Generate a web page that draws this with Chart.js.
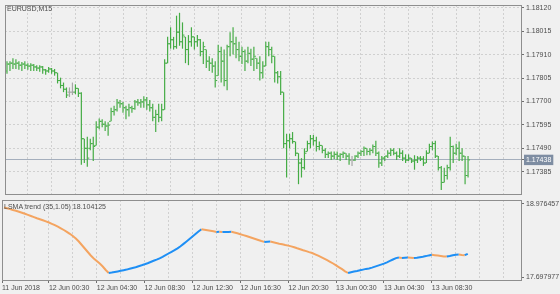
<!DOCTYPE html>
<html lang="en">
<head>
<meta charset="UTF-8">
<script src="https://cdn.jsdelivr.net/npm/chart.js@4.4.0/dist/chart.umd.min.js"></script>
<title>EURUSD,M15 - LSMA trend</title>
<style>
  html, body { margin: 0; padding: 0; background: #f0f0f0; }
  body { width: 560px; height: 294px; position: relative; overflow: hidden; }
  #price { position: absolute; left: 0; top: 0; }
  #lsma { position: absolute; left: 0; top: 199px; }
</style>
</head>
<body>
<canvas id="price" width="560" height="199"></canvas>
<canvas id="lsma" width="560" height="95"></canvas>
<script>
// EURUSD M15 bars, 11 Jun 20:45 -> 13 Jun 11:30
const opens = [
  1.17837, 1.17868, 1.17872, 1.17868, 1.17872, 1.17863, 1.17868, 1.17863, 1.17859, 1.17863,
  1.17855, 1.17850, 1.17855, 1.17842, 1.17837, 1.17846, 1.17837, 1.17829, 1.17794, 1.17772,
  1.17755, 1.17742, 1.17742, 1.17742, 1.17759, 1.17737, 1.17533, 1.17490, 1.17490, 1.17511,
  1.17503, 1.17585, 1.17611, 1.17598, 1.17590, 1.17611, 1.17655, 1.17663, 1.17694, 1.17690,
  1.17672, 1.17663, 1.17672, 1.17668, 1.17698, 1.17694, 1.17698, 1.17707, 1.17685, 1.17672,
  1.17629, 1.17642, 1.17629, 1.17663, 1.17872, 1.17959, 1.17977, 1.17946, 1.18011, 1.17968,
  1.17990, 1.17933, 1.17968, 1.17990, 1.17968, 1.17977, 1.17924, 1.17933, 1.17881, 1.17872,
  1.17859, 1.17816, 1.17924, 1.17881, 1.17794, 1.17946, 1.17968, 1.17959, 1.17933, 1.17903,
  1.17924, 1.17881, 1.17916, 1.17890, 1.17894, 1.17872, 1.17829, 1.17859, 1.17946, 1.17933,
  1.17903, 1.17829, 1.17811, 1.17742, 1.17511, 1.17524, 1.17533, 1.17520, 1.17468, 1.17424,
  1.17403, 1.17476, 1.17511, 1.17533, 1.17524, 1.17498, 1.17503, 1.17481, 1.17463, 1.17468,
  1.17455, 1.17463, 1.17455, 1.17463, 1.17468, 1.17455, 1.17437, 1.17437, 1.17455, 1.17468,
  1.17476, 1.17490, 1.17476, 1.17481, 1.17498, 1.17468, 1.17424, 1.17446, 1.17455, 1.17468,
  1.17481, 1.17468, 1.17455, 1.17468, 1.17446, 1.17437, 1.17446, 1.17433, 1.17437, 1.17446,
  1.17442, 1.17424, 1.17468, 1.17498, 1.17511, 1.17455, 1.17403, 1.17337, 1.17368, 1.17403,
  1.17498, 1.17468, 1.17490, 1.17468, 1.17455, 1.17368
];
const highs = [
  1.17881, 1.17881, 1.17894, 1.17890, 1.17881, 1.17877, 1.17881, 1.17872, 1.17872, 1.17868,
  1.17863, 1.17863, 1.17859, 1.17846, 1.17855, 1.17850, 1.17846, 1.17829, 1.17807, 1.17785,
  1.17763, 1.17763, 1.17785, 1.17777, 1.17759, 1.17742, 1.17533, 1.17542, 1.17533, 1.17542,
  1.17611, 1.17624, 1.17620, 1.17611, 1.17607, 1.17672, 1.17681, 1.17711, 1.17707, 1.17698,
  1.17681, 1.17690, 1.17681, 1.17707, 1.17711, 1.17711, 1.17724, 1.17720, 1.17707, 1.17690,
  1.17663, 1.17690, 1.17690, 1.17890, 1.17990, 1.18033, 1.17990, 1.18085, 1.18098, 1.18055,
  1.17990, 1.17998, 1.18033, 1.17990, 1.17998, 1.17981, 1.17968, 1.17933, 1.17903, 1.17894,
  1.17881, 1.17955, 1.17946, 1.17933, 1.17955, 1.18011, 1.18033, 1.17990, 1.17968, 1.17946,
  1.17933, 1.17946, 1.17937, 1.17946, 1.17894, 1.17903, 1.17881, 1.17968, 1.17968, 1.17946,
  1.17903, 1.17837, 1.17837, 1.17742, 1.17555, 1.17555, 1.17563, 1.17520, 1.17468, 1.17446,
  1.17490, 1.17524, 1.17550, 1.17550, 1.17542, 1.17520, 1.17503, 1.17490, 1.17476, 1.17476,
  1.17476, 1.17476, 1.17468, 1.17476, 1.17468, 1.17468, 1.17455, 1.17459, 1.17476, 1.17481,
  1.17498, 1.17490, 1.17490, 1.17507, 1.17524, 1.17476, 1.17455, 1.17455, 1.17481, 1.17490,
  1.17490, 1.17476, 1.17490, 1.17481, 1.17463, 1.17463, 1.17446, 1.17459, 1.17455, 1.17455,
  1.17455, 1.17481, 1.17511, 1.17520, 1.17524, 1.17455, 1.17411, 1.17403, 1.17416, 1.17542,
  1.17503, 1.17511, 1.17520, 1.17490, 1.17455, 1.17455
];
const lows = [
  1.17824, 1.17837, 1.17846, 1.17846, 1.17842, 1.17837, 1.17846, 1.17842, 1.17837, 1.17837,
  1.17837, 1.17833, 1.17824, 1.17820, 1.17829, 1.17824, 1.17816, 1.17781, 1.17759, 1.17742,
  1.17716, 1.17720, 1.17729, 1.17733, 1.17720, 1.17416, 1.17424, 1.17407, 1.17481, 1.17433,
  1.17503, 1.17576, 1.17585, 1.17568, 1.17546, 1.17611, 1.17637, 1.17655, 1.17672, 1.17650,
  1.17620, 1.17633, 1.17650, 1.17663, 1.17681, 1.17672, 1.17672, 1.17663, 1.17655, 1.17611,
  1.17563, 1.17607, 1.17611, 1.17663, 1.17872, 1.17937, 1.17933, 1.17937, 1.17950, 1.17937,
  1.17872, 1.17863, 1.17946, 1.17933, 1.17946, 1.17903, 1.17868, 1.17850, 1.17837, 1.17829,
  1.17763, 1.17816, 1.17785, 1.17768, 1.17750, 1.17903, 1.17911, 1.17894, 1.17881, 1.17868,
  1.17837, 1.17872, 1.17859, 1.17837, 1.17846, 1.17794, 1.17803, 1.17859, 1.17903, 1.17872,
  1.17785, 1.17781, 1.17729, 1.17490, 1.17359, 1.17490, 1.17511, 1.17455, 1.17329, 1.17359,
  1.17394, 1.17476, 1.17490, 1.17503, 1.17476, 1.17481, 1.17468, 1.17446, 1.17446, 1.17437,
  1.17442, 1.17437, 1.17433, 1.17446, 1.17437, 1.17416, 1.17411, 1.17433, 1.17446, 1.17455,
  1.17455, 1.17459, 1.17459, 1.17468, 1.17455, 1.17403, 1.17411, 1.17433, 1.17446, 1.17455,
  1.17459, 1.17437, 1.17446, 1.17433, 1.17424, 1.17433, 1.17424, 1.17394, 1.17424, 1.17433,
  1.17411, 1.17424, 1.17468, 1.17481, 1.17446, 1.17390, 1.17303, 1.17337, 1.17350, 1.17390,
  1.17424, 1.17459, 1.17433, 1.17433, 1.17329, 1.17359
];
const closes = [
  1.17868, 1.17872, 1.17868, 1.17872, 1.17863, 1.17868, 1.17863, 1.17859, 1.17863, 1.17855,
  1.17850, 1.17855, 1.17842, 1.17837, 1.17846, 1.17837, 1.17829, 1.17794, 1.17772, 1.17755,
  1.17729, 1.17742, 1.17742, 1.17759, 1.17737, 1.17533, 1.17490, 1.17446, 1.17511, 1.17498,
  1.17585, 1.17611, 1.17598, 1.17590, 1.17594, 1.17655, 1.17663, 1.17694, 1.17690, 1.17672,
  1.17663, 1.17672, 1.17668, 1.17698, 1.17694, 1.17698, 1.17707, 1.17685, 1.17672, 1.17629,
  1.17642, 1.17629, 1.17663, 1.17872, 1.17959, 1.17977, 1.17946, 1.18011, 1.17968, 1.17998,
  1.17933, 1.17968, 1.17990, 1.17968, 1.17977, 1.17924, 1.17946, 1.17881, 1.17872, 1.17859,
  1.17794, 1.17924, 1.17881, 1.17794, 1.17946, 1.17968, 1.17959, 1.17933, 1.17903, 1.17924,
  1.17881, 1.17916, 1.17890, 1.17903, 1.17872, 1.17829, 1.17859, 1.17946, 1.17933, 1.17903,
  1.17829, 1.17811, 1.17742, 1.17511, 1.17524, 1.17533, 1.17520, 1.17468, 1.17424, 1.17403,
  1.17468, 1.17511, 1.17533, 1.17524, 1.17498, 1.17503, 1.17481, 1.17463, 1.17468, 1.17455,
  1.17463, 1.17455, 1.17463, 1.17468, 1.17455, 1.17437, 1.17437, 1.17455, 1.17468, 1.17476,
  1.17490, 1.17476, 1.17481, 1.17498, 1.17468, 1.17424, 1.17446, 1.17455, 1.17468, 1.17481,
  1.17468, 1.17455, 1.17468, 1.17446, 1.17437, 1.17446, 1.17433, 1.17437, 1.17446, 1.17442,
  1.17424, 1.17468, 1.17498, 1.17511, 1.17455, 1.17403, 1.17337, 1.17368, 1.17403, 1.17498,
  1.17468, 1.17490, 1.17468, 1.17455, 1.17368, 1.17438
];
// LSMA trend (35,1.05), one value per bar
const lsma = [
  18.9152, 18.9012, 18.8871, 18.8714, 18.8574, 18.8399, 18.8223, 18.8048, 18.7856, 18.7663,
  18.7470, 18.7278, 18.7103, 18.6910, 18.6717, 18.6525, 18.6297, 18.6052, 18.5789, 18.5509,
  18.5211, 18.4896, 18.4546, 18.4160, 18.3723, 18.3197, 18.2584, 18.1971, 18.1358, 18.0745,
  18.0220, 17.9782, 17.9344, 17.8819, 17.8206, 17.7681, 17.7751, 17.7856, 17.7961, 17.8066,
  17.8171, 17.8276, 17.8416, 17.8556, 17.8696, 17.8872, 17.9029, 17.9204, 17.9397, 17.9607,
  17.9817, 18.0027, 18.0255, 18.0518, 18.0798, 18.1096, 18.1393, 18.1674, 18.2006, 18.2374,
  18.2777, 18.3197, 18.3635, 18.4073, 18.4511, 18.4948, 18.5334, 18.5246, 18.5159, 18.5071,
  18.4984, 18.4878, 18.4896, 18.4843, 18.4861, 18.4878, 18.4896, 18.4773, 18.4633, 18.4476,
  18.4318, 18.4160, 18.3985, 18.3810, 18.3635, 18.3460, 18.3285, 18.3127, 18.3162, 18.3180,
  18.3057, 18.2934, 18.2812, 18.2707, 18.2584, 18.2479, 18.2339, 18.2181, 18.2006, 18.1849,
  18.1674, 18.1516, 18.1341, 18.1183, 18.0956, 18.0710, 18.0448, 18.0185, 17.9922, 17.9642,
  17.9344, 17.9012, 17.8679, 17.8346, 17.7978, 17.7681, 17.7821, 17.7926, 17.8031, 17.8153,
  17.8276, 17.8399, 17.8486, 17.8626, 17.8801, 17.8977, 17.9152, 17.9327, 17.9554, 17.9800,
  18.0045, 18.0290, 18.0395, 18.0325, 18.0360, 18.0378, 18.0343, 18.0308, 18.0360, 18.0448,
  18.0535, 18.0640, 18.0763, 18.0868, 18.0798, 18.0728, 18.0658, 18.0588, 18.0553, 18.0658,
  18.0780, 18.0868, 18.0920, 18.0833, 18.0798, 18.104125
];
const priceTicks = [1.17385, 1.17490, 1.17595, 1.17700, 1.17805, 1.17910, 1.18015, 1.18120];
const lsmaTicks = [17.697977, 18.976457];
const firstLabel = '11 Jun 2018';
const timeLabels = ['12 Jun 00:30', '12 Jun 04:30', '12 Jun 08:30', '12 Jun 12:30', '12 Jun 16:30',
                    '12 Jun 20:30', '13 Jun 00:30', '13 Jun 04:30', '13 Jun 08:30'];

const lastClose = closes[closes.length - 1];
const FONT = { family: '"Liberation Sans", Arial, sans-serif', size: 7 };
const GREEN = '#45ac45', DOJI = '#a6a6a6';
const ORANGE = '#f4a460', BLUE = '#1e8ff5';
const GRID = '#d0d0d0', FRAME = '#8e8e8e', TEXT = '#4d4d4d', TICK = '#6e6e6e';
const X_MIN = -0.67, X_MAX = 172.8;

// dashed time grid every 8 bars, a label every 16 bars from bar 15 (12 Jun 00:30)
const gridBars = [];
for (let b = 7; b < X_MAX; b += 8) gridBars.push(b);
const labelAt = {};
timeLabels.forEach((t, k) => { labelAt[15 + 16 * k] = t; });

// frame round the plot area + window caption
const frame = {
    id: 'frame',
    afterDraw(chart, args, opts) {
        const ctx = chart.ctx, a = chart.chartArea;
        ctx.save();
        ctx.strokeStyle = FRAME;
        ctx.lineWidth = 1;
        ctx.strokeRect(Math.round(a.left) + 0.5, Math.round(a.top) + 0.5,
                       Math.round(a.right - a.left), Math.round(a.bottom - a.top));
        ctx.fillStyle = TEXT;
        ctx.font = FONT.size + 'px ' + FONT.family;
        ctx.textBaseline = 'middle';
        ctx.fillText(opts.text, a.left + 2, a.top + opts.dy);
        ctx.restore();
    }
};

const barColors = closes.map((c, i) => c === opens[i] ? DOJI : GREEN);

new Chart(document.getElementById('price'), {
    type: 'bar',
    data: {
        datasets: [
            {
                type: 'bar',
                data: closes.map((c, i) => ({ x: i, y: [lows[i], highs[i]] })),
                backgroundColor: barColors,
                barThickness: 1.2,
                inflateAmount: 0,
                grouped: false
            },
            {
                type: 'line',
                data: opens.map((o, i) => ({ x: i - 0.4, y: o })),
                showLine: false,
                pointStyle: 'line',
                pointRadius: 0.8,
                pointBorderWidth: 1,
                pointBorderColor: barColors
            },
            {
                type: 'line',
                data: closes.map((c, i) => ({ x: i + 0.4, y: c })),
                showLine: false,
                pointStyle: 'line',
                pointRadius: 0.8,
                pointBorderWidth: 1,
                pointBorderColor: barColors
            }
        ]
    },
    options: {
        responsive: false,
        animation: false,
        events: [],
        layout: { padding: { left: 2, top: 2, right: 0, bottom: 2 } },
        plugins: {
            legend: { display: false },
            tooltip: { enabled: false },
            frame: { text: 'EURUSD,M15', dy: 4 }
        },
        scales: {
            x: {
                type: 'linear',
                min: X_MIN,
                max: X_MAX,
                offset: false,
                afterBuildTicks: s => { s.ticks = gridBars.map(v => ({ value: v })); },
                afterFit: s => { s.height = 0; s.paddingLeft = 0; s.paddingRight = 0; },
                ticks: { display: false },
                grid: { color: GRID, drawTicks: false, offset: false },
                border: { display: false, dash: [2, 2] }
            },
            y: {
                position: 'right',
                min: 1.17285,
                max: 1.18133,
                afterBuildTicks: s => {
                    s.ticks = priceTicks.concat([lastClose]).sort().map(v => ({ value: v }));
                },
                afterFit: s => { s.width = 39; s.paddingTop = 0; s.paddingBottom = 0; },
                ticks: {
                    autoSkip: false,
                    font: FONT,
                    padding: 2,
                    color: c => c.tick.value === lastClose ? '#ffffff' : TEXT,
                    callback: v => v.toFixed(5),
                    showLabelBackdrop: c => c.tick.value === lastClose,
                    backdropColor: '#7e8da2',
                    backdropPadding: { top: 1, bottom: 1, left: 2, right: 2 }
                },
                grid: {
                    color: c => c.tick && c.tick.value === lastClose ? '#a5afbd' : GRID,
                    tickLength: 3,
                    tickColor: TICK
                },
                border: { display: false, dash: c => (c.tick && c.tick.value === lastClose) ? [] : [2, 2] }
            }
        }
    },
    plugins: [frame]
});

new Chart(document.getElementById('lsma'), {
    type: 'line',
    data: {
        datasets: [{
            data: lsma.map((v, i) => ({ x: i, y: v })),
            borderColor: ORANGE,
            borderWidth: 2,
            pointRadius: 0,
            segment: { borderColor: c => c.p1.parsed.y > c.p0.parsed.y ? BLUE : ORANGE }
        }]
    },
    options: {
        responsive: false,
        animation: false,
        events: [],
        layout: { padding: { left: 2, top: 1, right: 0, bottom: 0 } },
        plugins: {
            legend: { display: false },
            tooltip: { enabled: false },
            frame: { text: 'LSMA trend (35,1.05) ' + lsma[lsma.length - 1].toFixed(6), dy: 7 }
        },
        scales: {
            x: {
                type: 'linear',
                min: X_MIN,
                max: X_MAX,
                afterBuildTicks: s => { s.ticks = [X_MIN].concat(gridBars).map(v => ({ value: v })); },
                afterFit: s => { s.height = 14; s.paddingLeft = 0; s.paddingRight = 0; },
                ticks: {
                    autoSkip: false,
                    maxRotation: 0,
                    minRotation: 0,
                    align: 'start',
                    padding: 1,
                    font: FONT,
                    color: TEXT,
                    callback: v => v === X_MIN ? firstLabel : (labelAt[v] || '')
                },
                grid: {
                    color: c => (c.tick && c.tick.value === X_MIN) ? 'rgba(0,0,0,0)' : GRID,
                    tickLength: 3,
                    tickColor: c => (c.tick && (c.tick.value === X_MIN || labelAt[c.tick.value])) ? TICK : 'rgba(0,0,0,0)'
                },
                border: { display: false, dash: [2, 2] }
            },
            y: {
                position: 'right',
                min: 17.645438,
                max: 19.046509,
                afterBuildTicks: s => { s.ticks = lsmaTicks.map(v => ({ value: v })); },
                afterFit: s => { s.width = 39; s.paddingTop = 0; s.paddingBottom = 0; },
                ticks: { autoSkip: false, font: FONT, padding: 2, color: TEXT, callback: v => v.toFixed(6) },
                grid: { color: 'rgba(0,0,0,0)', tickLength: 3, tickColor: TICK },
                border: { display: false }
            }
        }
    },
    plugins: [frame]
});
</script>
</body>
</html>
